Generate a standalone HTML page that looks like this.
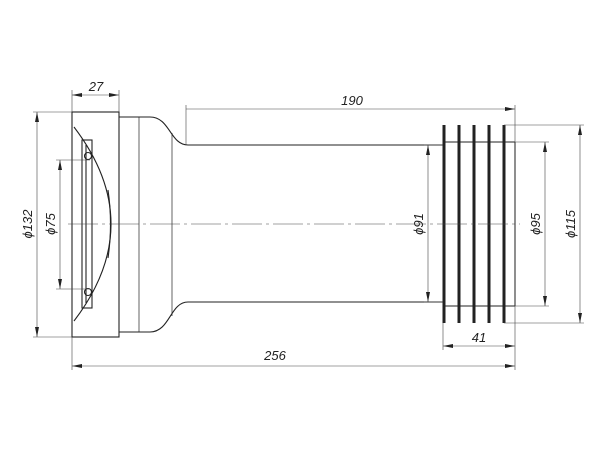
<!DOCTYPE html>
<html><head><meta charset="utf-8"><style>html,body{margin:0;background:#fff}svg{display:block}</style></head>
<body>
<svg width="600" height="450" viewBox="0 0 600 450" xmlns="http://www.w3.org/2000/svg" font-family="Liberation Sans, sans-serif">
<defs>
<marker id="a" viewBox="0 0 10 4" refX="10" refY="2" markerWidth="10" markerHeight="4" orient="auto-start-reverse" markerUnits="userSpaceOnUse"><path d="M0,0 L10,2 L0,4z" fill="#222"/></marker>
</defs>
<g fill="none" stroke="#222" stroke-width="1.1">
<!-- flange -->
<rect x="72" y="112" width="47" height="225"/>
<path d="M74,127 Q148,224 74,321"/>
<path d="M108,190 Q113,224 108,258"/>
<rect x="82" y="140" width="10" height="168"/>
<line x1="86" y1="145" x2="86" y2="303"/>
<circle cx="88" cy="156" r="3.5"/>
<circle cx="88" cy="292" r="3.5"/>
<!-- body -->
<path d="M119,117 L150,117 C170,117 170,145 188,145 L443,145"/>
<path d="M119,332 L150,332 C170,332 170,302 188,302 L443,302"/>
<line x1="139" y1="117" x2="139" y2="332" stroke-width="0.7"/>
<line x1="172" y1="133" x2="172" y2="316" stroke-width="0.7"/>
<!-- bellows -->
<line x1="443" y1="142" x2="515" y2="142"/>
<line x1="443" y1="306" x2="515" y2="306"/>
<line x1="515" y1="142" x2="515" y2="306"/>
<g stroke-width="3">
<line x1="444" y1="125" x2="444" y2="323"/>
<line x1="459" y1="125" x2="459" y2="323"/>
<line x1="474" y1="125" x2="474" y2="323"/>
<line x1="489" y1="125" x2="489" y2="323"/>
<line x1="504" y1="125" x2="504" y2="323"/>
</g>
</g>
<g fill="none" stroke="#444" stroke-width="0.6">
<line x1="68" y1="224" x2="520" y2="224" stroke-dasharray="30,4,3,4"/>
<line x1="72" y1="90" x2="72" y2="112"/><line x1="119" y1="90" x2="119" y2="112"/>
<line x1="72" y1="337" x2="72" y2="370"/>
<line x1="186" y1="105" x2="186" y2="145"/>
<line x1="515" y1="105" x2="515" y2="370"/>
<line x1="443" y1="323" x2="443" y2="350"/>
<line x1="33" y1="112" x2="72" y2="112"/><line x1="33" y1="337" x2="72" y2="337"/>
<line x1="56" y1="160" x2="90" y2="160"/><line x1="56" y1="289" x2="90" y2="289"/>
<line x1="424" y1="145" x2="443" y2="145"/><line x1="424" y1="302" x2="443" y2="302"/>
<line x1="515" y1="142" x2="549" y2="142"/><line x1="515" y1="306" x2="549" y2="306"/>
<line x1="504" y1="125" x2="584" y2="125"/><line x1="504" y1="323" x2="584" y2="323"/>
<line x1="72" y1="95" x2="119" y2="95" marker-start="url(#a)" marker-end="url(#a)"/>
<line x1="186" y1="109" x2="515" y2="109" marker-end="url(#a)"/>
<line x1="72" y1="366" x2="515" y2="366" marker-start="url(#a)" marker-end="url(#a)"/>
<line x1="443" y1="346" x2="515" y2="346" marker-start="url(#a)" marker-end="url(#a)"/>
<line x1="37" y1="112" x2="37" y2="337" marker-start="url(#a)" marker-end="url(#a)"/>
<line x1="60" y1="160" x2="60" y2="289" marker-start="url(#a)" marker-end="url(#a)"/>
<line x1="428" y1="145" x2="428" y2="302" marker-start="url(#a)" marker-end="url(#a)"/>
<line x1="545" y1="142" x2="545" y2="306" marker-start="url(#a)" marker-end="url(#a)"/>
<line x1="580" y1="125" x2="580" y2="323" marker-start="url(#a)" marker-end="url(#a)"/>
</g>
<g fill="#222" font-size="13" font-style="italic" text-anchor="middle">
<text x="96" y="91">27</text>
<text x="352" y="105">190</text>
<text x="275" y="360">256</text>
<text x="479" y="342">41</text>
<text transform="translate(32,224) rotate(-90)">ϕ132</text>
<text transform="translate(55,224) rotate(-90)">ϕ75</text>
<text transform="translate(423,224) rotate(-90)">ϕ91</text>
<text transform="translate(540,224) rotate(-90)">ϕ95</text>
<text transform="translate(575,224) rotate(-90)">ϕ115</text>
</g>
</svg>
</body></html>
